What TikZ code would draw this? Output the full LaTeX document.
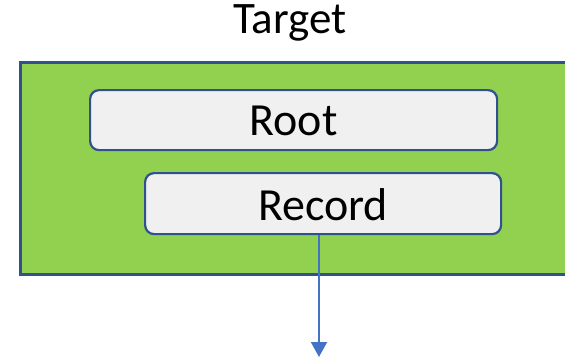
\documentclass[tikz,border=0pt]{standalone}
\usepackage{fontspec}
\setmainfont{Carlito}
\usetikzlibrary{arrows.meta}
\definecolor{grn}{HTML}{92D050}
\definecolor{edge}{HTML}{2F528F}
\definecolor{boxfill}{HTML}{F0F0F0}
\definecolor{arr}{HTML}{4472C4}
\tikzset{
  container/.style={draw=edge, fill=grn, line width=2.5pt, inner sep=0pt, anchor=north west},
  itembox/.style={draw=edge, fill=boxfill, line width=2.2pt, rounded corners=9pt, inner sep=0pt, anchor=north west},
  label/.style={font=\fontsize{46}{54}\selectfont}
}
\tikzset{
  flow/.style={draw=arr, line width=2pt, -{Triangle[length=15pt,width=16pt]}}
}
\begin{document}
\begin{tikzpicture}[x=1pt,y=-1pt]
\useasboundingbox (0,0) rectangle (565,357);
\node[font=\fontsize{45}{52}\selectfont] (title) at (290,23) {Target};
\node[container, minimum width=560pt, minimum height=212pt] (target) at (19,61) {};
\node[itembox, minimum width=407pt, minimum height=60pt] (root) at (89,89) {};
\node at (root.center) [label, yshift=-1pt] (roottext) {Root};
\node[itembox, minimum width=356pt, minimum height=61pt] (record) at (144,172) {};
\node at (record.center) [label, yshift=-1pt] (recordtext) {Record};
\coordinate (out) at (319,357);
\draw[flow] (record.south -| out) -- (out);
\end{tikzpicture}
\end{document}
